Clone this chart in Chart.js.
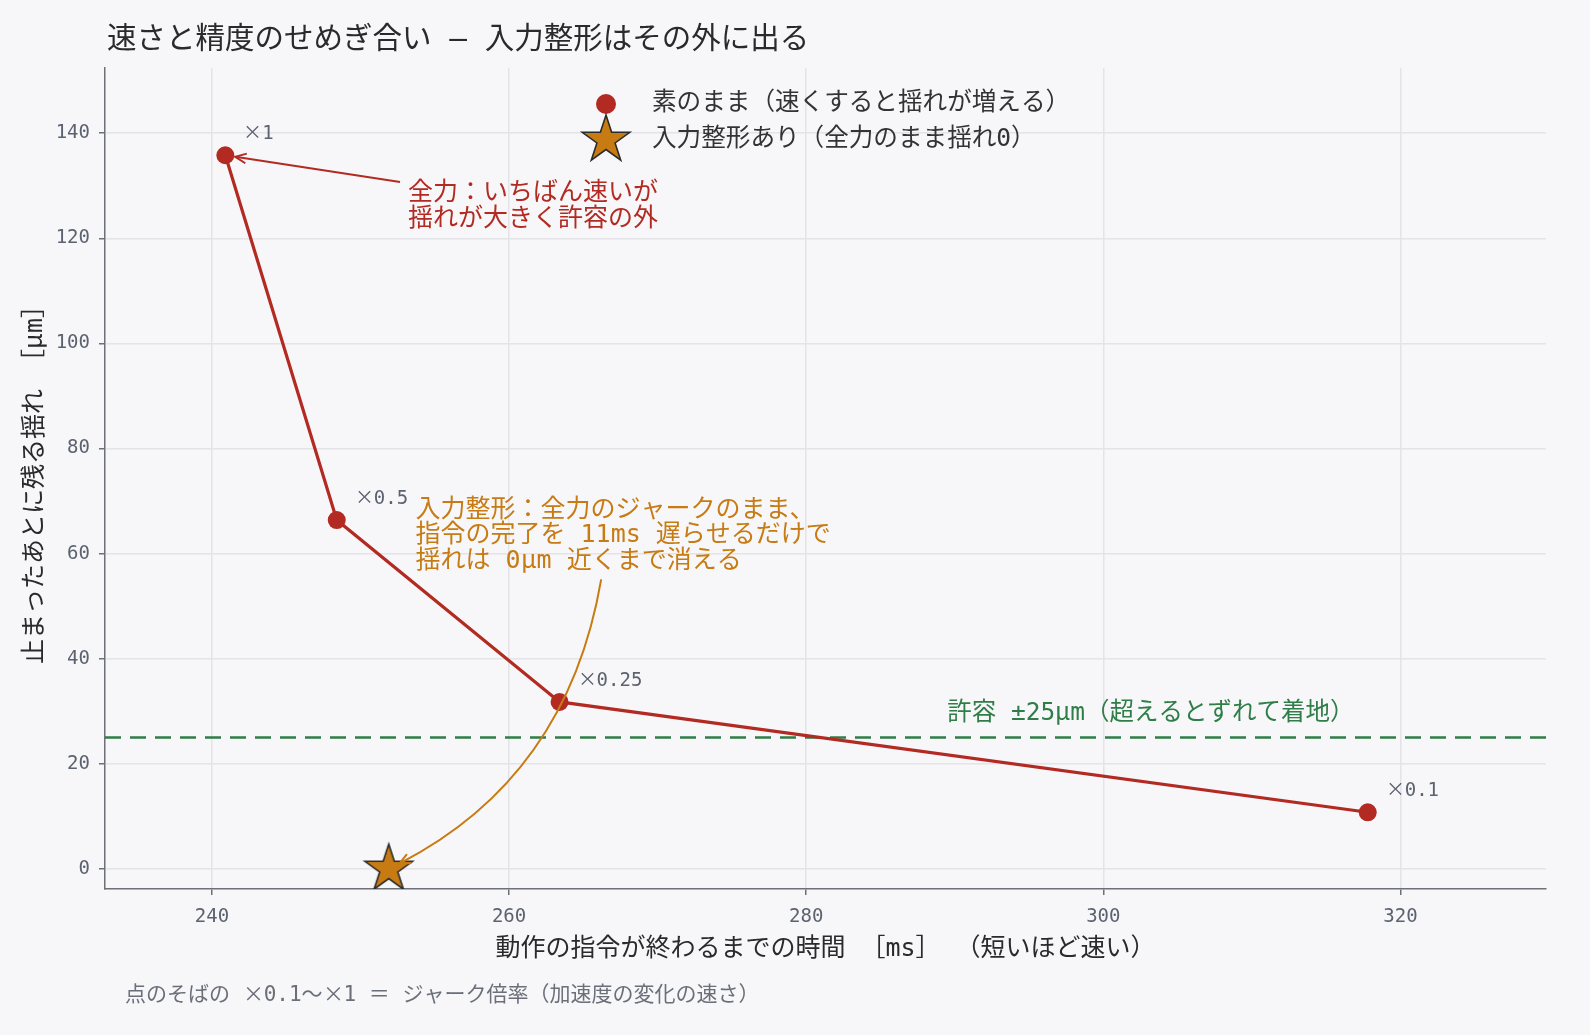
<!DOCTYPE html>
<html lang="ja">
<head>
<meta charset="utf-8">
<title>速さと精度のせめぎ合い</title>
<script src="https://cdn.jsdelivr.net/npm/chart.js@4.4.1/dist/chart.umd.min.js"></script>
<style>
  /* × と μ だけ全角の和文グリフで出す */
  @font-face {
    font-family: 'CJKSym';
    src: local('Noto Sans CJK JP Regular'), local('NotoSansCJKjp-Regular'), local('Noto Sans CJK JP');
    unicode-range: U+00D7, U+03BC, U+00B5;
  }
  html, body { margin: 0; padding: 0; background: #f7f7f9; }
  #wrap { width: 1590px; height: 1035px; }
</style>
</head>
<body>
<div id="wrap"><canvas id="chart"></canvas></div>
<script>
// 素のまま：ジャーク倍率ごとの指令完了時間 [ms] と残留揺れ [μm]
const jerkLabels = ['×1', '×0.5', '×0.25', '×0.1'];
const rawTimeMs = [240.9, 248.4, 263.4, 317.8];
const rawSwayUm = [135.8, 66.4, 31.8, 10.8];

// 入力整形あり（全力のジャークのまま）
const shapedTimeMs = [251.9];
const shapedSwayUm = [0];

const toleranceUm = 25;

const xTicks = [240, 260, 280, 300, 320];
const yTicks = [0, 20, 40, 60, 80, 100, 120, 140];

const X_MIN = 232.8, X_MAX = 329.8;
const Y_MIN = -3.8, Y_MAX = 152.4;

const FONT = "'CJKSym', 'DejaVu Sans Mono', 'Noto Sans CJK JP', sans-serif";
const RED = '#b22a21';
const ORANGE = '#c77b12';
const GREEN = '#2f7d47';
const INK = '#2a2a2a';
const GREY = '#5c6270';
const SPINE = '#6e7079';
const GRID = '#e4e4e8';

// 注記（位置はデータ座標）
const notes = [
  {
    lines: ['全力：いちばん速いが', '揺れが大きく許容の外'],
    color: RED, at: [253.2, 128.5], tail: [252.66, 130.7],
    target: { ds: 1, idx: 0 }, shrink: 10, bend: 0
  },
  {
    lines: ['入力整形：全力のジャークのまま、', '指令の完了を 11ms 遅らせるだけで', '揺れは 0μm 近くまで消える'],
    color: ORANGE, at: [253.7, 68.3], tail: [266.2, 55.1],
    target: { ds: 0, idx: 0 }, shrink: 12, bend: 0.125
  }
];

function makeStar(r, fill, stroke) {
  const c = document.createElement('canvas');
  const s = Math.ceil(2 * r + 6);
  c.width = c.height = s;
  const g = c.getContext('2d');
  g.translate(s / 2, s / 2);
  g.beginPath();
  for (let i = 0; i < 10; i++) {
    const rr = i % 2 === 0 ? r : r * 0.382;
    const a = -Math.PI / 2 + i * Math.PI / 5;
    const px = rr * Math.cos(a), py = rr * Math.sin(a);
    if (i === 0) g.moveTo(px, py); else g.lineTo(px, py);
  }
  g.closePath();
  g.fillStyle = fill;
  g.fill();
  g.lineWidth = 1.6;
  g.lineJoin = 'miter';
  g.strokeStyle = stroke;
  g.stroke();
  return c;
}

const starImg = makeStar(25, ORANGE, '#2b2b2b');

function arrowHead(ctx, tip, from, len, spread) {
  const a = Math.atan2(tip.y - from.y, tip.x - from.x);
  ctx.beginPath();
  ctx.moveTo(tip.x - len * Math.cos(a - spread), tip.y - len * Math.sin(a - spread));
  ctx.lineTo(tip.x, tip.y);
  ctx.lineTo(tip.x - len * Math.cos(a + spread), tip.y - len * Math.sin(a + spread));
  ctx.stroke();
}

const backgroundPlugin = {
  id: 'background',
  beforeDraw(chart) {
    const ctx = chart.ctx;
    ctx.save();
    ctx.fillStyle = '#f7f7f9';
    ctx.fillRect(0, 0, chart.width, chart.height);
    ctx.restore();
  }
};

const decorPlugin = {
  id: 'decor',
  afterDatasetsDraw(chart) {
    const ctx = chart.ctx;
    const sx = chart.scales.x, sy = chart.scales.y;
    ctx.save();

    // ジャーク倍率ラベル
    ctx.font = '19px ' + FONT;
    ctx.fillStyle = GREY;
    ctx.textAlign = 'left';
    ctx.textBaseline = 'middle';
    chart.getDatasetMeta(1).data.forEach((pt, i) => {
      ctx.fillText(jerkLabels[i], pt.x + 18, pt.y - 21);
    });

    // 許容ラベル
    ctx.font = '24.5px ' + FONT;
    ctx.fillStyle = GREEN;
    ctx.fillText('許容 ±25μm（超えるとずれて着地）', sx.getPixelForValue(289.5), sy.getPixelForValue(toleranceUm) - 24);

    // 注記と矢印
    notes.forEach(n => {
      const x0 = sx.getPixelForValue(n.at[0]);
      const y0 = sy.getPixelForValue(n.at[1]);
      ctx.font = '25px ' + FONT;
      ctx.fillStyle = n.color;
      n.lines.forEach((t, i) => ctx.fillText(t, x0, y0 + i * 25.5));

      const tail = { x: sx.getPixelForValue(n.tail[0]), y: sy.getPixelForValue(n.tail[1]) };
      const el = chart.getDatasetMeta(n.target.ds).data[n.target.idx];
      const tgt = { x: el.x, y: el.y };
      ctx.strokeStyle = n.color;
      ctx.lineWidth = 2;
      if (!n.bend) {
        const d = Math.hypot(tail.x - tgt.x, tail.y - tgt.y);
        const tip = { x: tgt.x + (tail.x - tgt.x) / d * n.shrink, y: tgt.y + (tail.y - tgt.y) / d * n.shrink };
        ctx.beginPath();
        ctx.moveTo(tail.x, tail.y);
        ctx.lineTo(tip.x, tip.y);
        ctx.stroke();
        arrowHead(ctx, tip, tail, 12, 0.42);
      } else {
        const dx = tgt.x - tail.x, dy = tgt.y - tail.y;
        const ctrl = {
          x: (tail.x + tgt.x) / 2 + n.bend * 2 * dy,
          y: (tail.y + tgt.y) / 2 - n.bend * 2 * dx
        };
        const dc = Math.hypot(ctrl.x - tgt.x, ctrl.y - tgt.y);
        const tip = { x: tgt.x + (ctrl.x - tgt.x) / dc * n.shrink, y: tgt.y + (ctrl.y - tgt.y) / dc * n.shrink };
        ctx.beginPath();
        ctx.moveTo(tail.x, tail.y);
        ctx.quadraticCurveTo(ctrl.x, ctrl.y, tip.x, tip.y);
        ctx.stroke();
        arrowHead(ctx, tip, ctrl, 12, 0.42);
      }
    });
    ctx.restore();
  },
  afterDraw(chart) {
    const ctx = chart.ctx;
    const area = chart.chartArea;
    ctx.save();
    ctx.textAlign = 'left';
    ctx.textBaseline = 'middle';

    // タイトル
    ctx.font = '29.5px ' + FONT;
    ctx.fillStyle = INK;
    ctx.fillText('速さと精度のせめぎ合い — 入力整形はその外に出る', 107, 40);

    // 凡例
    const lx = area.left + 501;
    const ly = area.top + 36;
    ctx.fillStyle = RED;
    ctx.beginPath();
    ctx.arc(lx, ly, 10, 0, Math.PI * 2);
    ctx.fill();
    ctx.drawImage(starImg, lx - starImg.width / 2, ly + 36 - starImg.height / 2);
    ctx.font = '24.6px ' + FONT;
    ctx.fillStyle = '#333333';
    ctx.fillText('素のまま（速くすると揺れが増える）', lx + 46, ly);
    ctx.fillText('入力整形あり（全力のまま揺れ0）', lx + 46, ly + 36);

    // 脚注
    ctx.font = '21px ' + FONT;
    ctx.fillStyle = '#6b6f7a';
    ctx.fillText('点のそばの ×0.1〜×1 ＝ ジャーク倍率（加速度の変化の速さ）', 125, 996);
    ctx.restore();
  }
};

function build() {
  new Chart(document.getElementById('chart'), {
    type: 'scatter',
    data: {
      datasets: [
        {
          label: '入力整形あり（全力のまま揺れ0）',
          data: shapedTimeMs.map((x, i) => ({ x, y: shapedSwayUm[i] })),
          pointStyle: starImg,
          pointRadius: 25,
          showLine: false
        },
        {
          label: '素のまま（速くすると揺れが増える）',
          data: rawTimeMs.map((x, i) => ({ x, y: rawSwayUm[i] })),
          showLine: true,
          tension: 0,
          borderColor: RED,
          borderWidth: 3.2,
          pointRadius: 9,
          pointBackgroundColor: RED,
          pointBorderWidth: 0
        },
        {
          label: '許容',
          data: [{ x: X_MIN, y: toleranceUm }, { x: X_MAX, y: toleranceUm }],
          showLine: true,
          borderColor: GREEN,
          borderWidth: 2.5,
          borderDash: [16, 9],
          pointRadius: 0
        }
      ]
    },
    options: {
      responsive: true,
      maintainAspectRatio: false,
      animation: false,
      layout: { padding: { top: 68, right: 44, bottom: 0, left: 0 } },
      plugins: {
        legend: { display: false },
        title: { display: false },
        tooltip: { enabled: false }
      },
      scales: {
        x: {
          type: 'linear',
          min: X_MIN,
          max: X_MAX,
          afterBuildTicks: s => { s.ticks = xTicks.map(v => ({ value: v })); },
          afterFit: s => { s.height = 146; },
          ticks: { font: { family: FONT, size: 19 }, color: GREY, padding: 11, maxRotation: 0 },
          grid: { color: GRID, lineWidth: 1.5, tickLength: 6, tickColor: SPINE, tickWidth: 1.5 },
          border: { color: SPINE, width: 1.5 },
          title: {
            display: true,
            text: '動作の指令が終わるまでの時間 ［ms］ （短いほど速い）',
            font: { family: FONT, size: 25 },
            color: INK,
            padding: { top: 0, bottom: 70.5 }
          }
        },
        y: {
          type: 'linear',
          min: Y_MIN,
          max: Y_MAX,
          afterBuildTicks: s => { s.ticks = yTicks.map(v => ({ value: v })); },
          afterFit: s => { s.width = 105; },
          ticks: { font: { family: FONT, size: 19 }, color: GREY, padding: 9 },
          grid: { color: GRID, lineWidth: 1.5, tickLength: 6, tickColor: SPINE, tickWidth: 1.5 },
          border: { color: SPINE, width: 1.5 },
          title: {
            display: true,
            text: '止まったあとに残る揺れ ［μm］',
            font: { family: FONT, size: 25 },
            color: INK,
            padding: { top: 20, bottom: 0 }
          }
        }
      }
    },
    plugins: [backgroundPlugin, decorPlugin]
  });
}

// ローカルフォントの読み込みを待ってから描く
document.fonts.load('20px CJKSym', '×μ').then(build, build);
</script>
</body>
</html>
